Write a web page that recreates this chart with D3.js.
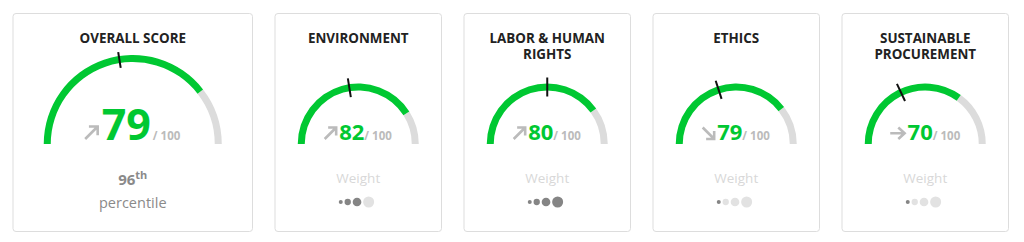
<!DOCTYPE html>
<html>
<head>
<meta charset="utf-8">
<script src="https://cdn.jsdelivr.net/npm/d3@7"></script>
<style>
  body { margin: 0; background: #fff; font-family: "Open Sans", sans-serif; }
</style>
</head>
<body>
<div id="chart"></div>
<script>
// values
var titles = [["OVERALL SCORE"], ["ENVIRONMENT"], ["LABOR & HUMAN", "RIGHTS"], ["ETHICS"], ["SUSTAINABLE", "PROCUREMENT"]];
var scores = [79, 82, 80, 79, 70];
var benchmarks = [45, 45, 50, 40, 36];
var trends = ["up", "up", "up", "down", "flat"];
var weights = [null, 3, 4, 1, 1];
var weightLevels = [1, 2, 3, 4];
var percentile = "96";
var percentileSuffix = "th";
var maxScore = 100;

var width = 1024, height = 242;
var green = "#00c832", track = "#dcdcdc";

var svg = d3.select("#chart").append("svg")
    .attr("width", width)
    .attr("height", height);

// card layout
var bigW = 239.5, smallW = 166.5, gap = 22.5;
var cards = [];
var x = 13;
titles.forEach(function(t, i) {
  var w = i === 0 ? bigW : smallW;
  cards.push({x: x, w: w, big: i === 0});
  x += w + gap;
});

var angle = d3.scaleLinear().domain([0, maxScore]).range([-Math.PI / 2, Math.PI / 2]);
var dotR = d3.scaleLinear().domain([1, 4]).range([2, 5.5]);

function arrowPath(type, s) {
  if (type === "up") return "M0," + s + "L" + s + ",0M" + (s * 0.3) + ",0L" + s + ",0L" + s + "," + (s * 0.7);
  if (type === "down") return "M0,0L" + s + "," + s + "M" + s + "," + (s * 0.3) + "L" + s + "," + s + "L" + (s * 0.3) + "," + s;
  return "M0," + (s / 2) + "L" + (s * 1.25) + "," + (s / 2) + "M" + (s * 0.7) + ",0L" + (s * 1.25) + "," + (s / 2) + "L" + (s * 0.7) + "," + s;
}

cards.forEach(function(c, i) {
  var g = svg.append("g");
  var cx = c.x + c.w / 2;
  var cy = 144;

  g.append("rect")
      .attr("x", c.x).attr("y", 13.5)
      .attr("width", c.w).attr("height", 218)
      .attr("rx", 3)
      .attr("fill", "#fff")
      .attr("stroke", "#dddddd");

  titles[i].forEach(function(line, j) {
    g.append("text")
        .attr("x", cx).attr("y", 43 + j * 16)
        .attr("text-anchor", "middle")
        .attr("font-size", 13.4)
        .attr("font-weight", 700)
        .attr("fill", "#222")
        .text(line);
  });

  var outer = c.big ? 89 : 60.5;
  var inner = outer - 7;
  var arc = d3.arc().innerRadius(inner).outerRadius(outer);
  var gauge = g.append("g").attr("transform", "translate(" + cx + "," + cy + ")");

  gauge.append("path")
      .attr("d", arc({startAngle: angle(scores[i]), endAngle: angle(maxScore)}))
      .attr("fill", track);
  gauge.append("path")
      .attr("d", arc({startAngle: angle(0), endAngle: angle(scores[i])}))
      .attr("fill", green);

  var a = angle(benchmarks[i]);
  var r0 = c.big ? inner - 5 : inner - 6, r1 = c.big ? outer + 4 : outer + 6;
  gauge.append("line")
      .attr("x1", r0 * Math.sin(a)).attr("y1", -r0 * Math.cos(a))
      .attr("x2", r1 * Math.sin(a)).attr("y2", -r1 * Math.cos(a))
      .attr("stroke", "#111")
      .attr("stroke-width", 2);

  // arrow + score + "/ 100"
  var s = c.big ? 12.5 : 11.5;
  var aw = trends[i] === "flat" ? s * 1.25 : s;
  var row = g.append("g");
  var num = row.append("text")
      .attr("y", 140)
      .attr("font-size", c.big ? 43 : 22)
      .attr("font-weight", 700)
      .attr("fill", green)
      .text(scores[i]);
  var of = row.append("text")
      .attr("y", 140)
      .attr("font-size", 11.5)
      .attr("font-weight", 700)
      .attr("fill", "#bbbbbb")
      .text("/ " + maxScore);
  var nw = num.node().getComputedTextLength();
  var ow = of.node().getComputedTextLength();
  var gp = c.big ? 4 : 3;
  var total = aw + gp + nw + (c.big ? 2 : 0) + ow;
  var left = cx - total / 2;
  row.append("path")
      .attr("d", arrowPath(trends[i], s))
      .attr("transform", "translate(" + left + "," + (139 - s) + ")")
      .attr("fill", "none")
      .attr("stroke", "#bbbbbb")
      .attr("stroke-width", 2.6);
  num.attr("x", left + aw + gp);
  of.attr("x", left + aw + gp + nw + (c.big ? 2 : 0));

  if (c.big) {
    var p = g.append("text")
        .attr("x", cx).attr("y", 185)
        .attr("text-anchor", "middle")
        .attr("font-size", 15)
        .attr("font-weight", 700)
        .attr("fill", "#8a8a8a");
    p.append("tspan").text(percentile);
    p.append("tspan").attr("dy", -6).attr("font-size", 11).text(percentileSuffix);
    g.append("text")
        .attr("x", cx).attr("y", 208)
        .attr("text-anchor", "middle")
        .attr("font-size", 14.5)
        .attr("fill", "#8a8a8a")
        .text("percentile");
  } else {
    g.append("text")
        .attr("x", cx).attr("y", 183)
        .attr("text-anchor", "middle")
        .attr("font-size", 13.5)
        .attr("fill", "#d8d8d8")
        .text("Weight");
    var dx = [];
    var pos = 0;
    weightLevels.forEach(function(l, k) {
      if (k > 0) pos += dotR(weightLevels[k - 1]) + 1.8 + dotR(l);
      dx.push(pos);
    });
    var off = cx - 17.5;
    g.selectAll(".dot")
        .data(weightLevels)
      .enter().append("circle")
        .attr("cx", function(d, k) { return off + dx[k]; })
        .attr("cy", 202)
        .attr("r", function(d) { return dotR(d); })
        .attr("fill", function(d) { return d <= weights[i] ? "#858585" : "#e2e2e2"; });
  }
});
</script>
</body>
</html>
